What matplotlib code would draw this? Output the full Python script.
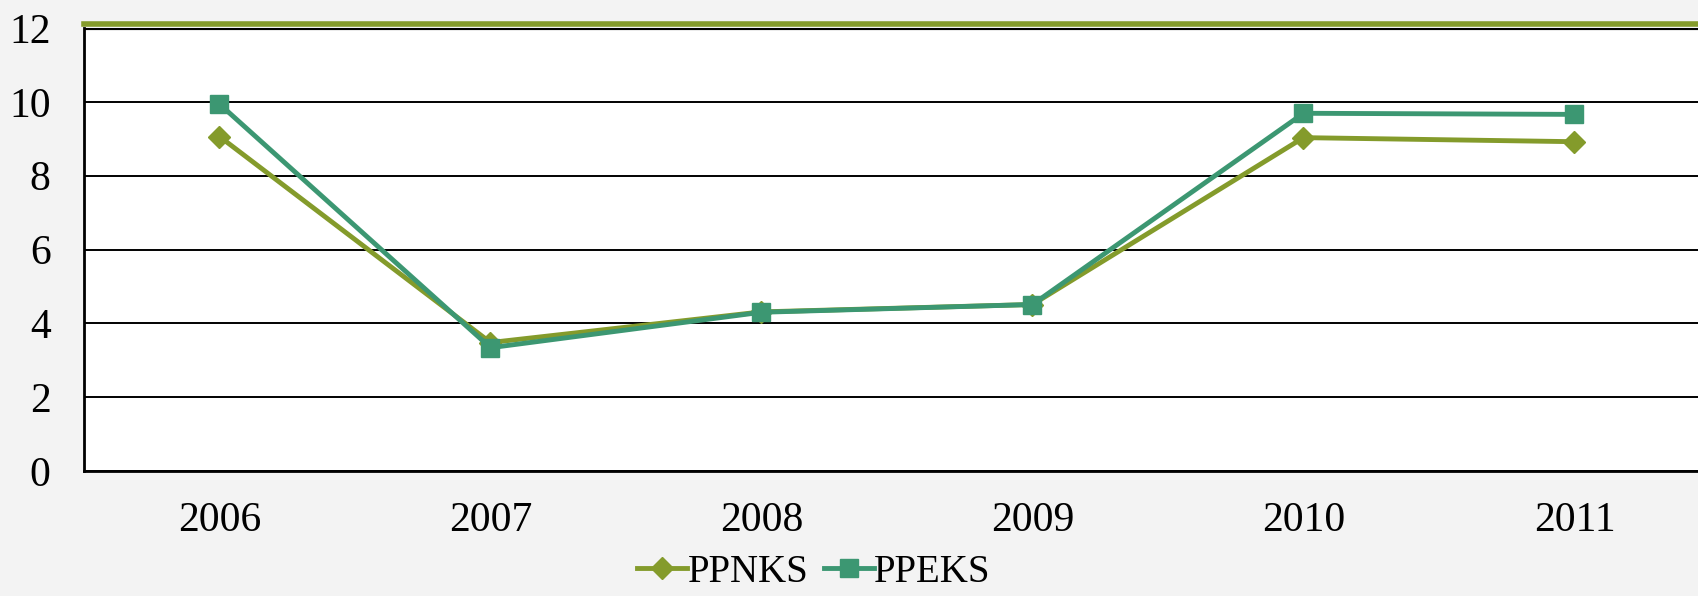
import matplotlib
matplotlib.use("Agg")
import matplotlib.pyplot as plt

# 数据
years = ["2006", "2007", "2008", "2009", "2010", "2011"]
ppnks = [9.06, 3.48, 4.31, 4.51, 9.03, 8.92]
ppeks = [9.94, 3.34, 4.30, 4.51, 9.69, 9.66]
yticks = [0, 2, 4, 6, 8, 10, 12]

OLIVE = "#849b2b"
TEAL = "#3c9772"

plt.rcParams["font.family"] = ["Liberation Serif", "DejaVu Serif"]

fig = plt.figure(figsize=(16.99, 5.96), dpi=100, facecolor="#f3f3f3")
ax = fig.add_axes([84 / 1699, 1 - 471 / 596, 1 - 84 / 1699, 443 / 596])
ax.set_facecolor("white")

x = list(range(len(years)))
ax.plot(x, ppnks, color=OLIVE, lw=3.5, marker="D", ms=11, label="PPNKS", zorder=3)
ax.plot(x, ppeks, color=TEAL, lw=3.5, marker="s", ms=13, label="PPEKS", zorder=4)

ax.set_xlim(-0.5, -0.5 + (1699 - 84) / 271)
ax.set_ylim(0, 12)
ax.set_xticks(x)
ax.set_xticklabels(years)
ax.set_yticks(yticks)
ax.tick_params(axis="both", length=0, labelsize=30)
ax.tick_params(axis="y", pad=24)
ax.tick_params(axis="x", pad=22)

ax.yaxis.grid(True, color="black", lw=1.4)
ax.set_axisbelow(True)

for side in ["left", "bottom"]:
    ax.spines[side].set_color("black")
    ax.spines[side].set_linewidth(2)
ax.spines["right"].set_visible(False)
ax.spines["top"].set_color(OLIVE)
ax.spines["top"].set_linewidth(4)
ax.spines["top"].set_position(("outward", 3))
ax.axhline(12, color="black", lw=3, zorder=2)

fig.legend(*ax.get_legend_handles_labels(), loc="center",
           bbox_to_anchor=(0.479, 1 - 572 / 596),
           ncol=2, frameon=False, fontsize=28, handlelength=1.3,
           handletextpad=0.0, columnspacing=0.4, borderaxespad=0)

fig.savefig("out.png", dpi=100, facecolor=fig.get_facecolor())
